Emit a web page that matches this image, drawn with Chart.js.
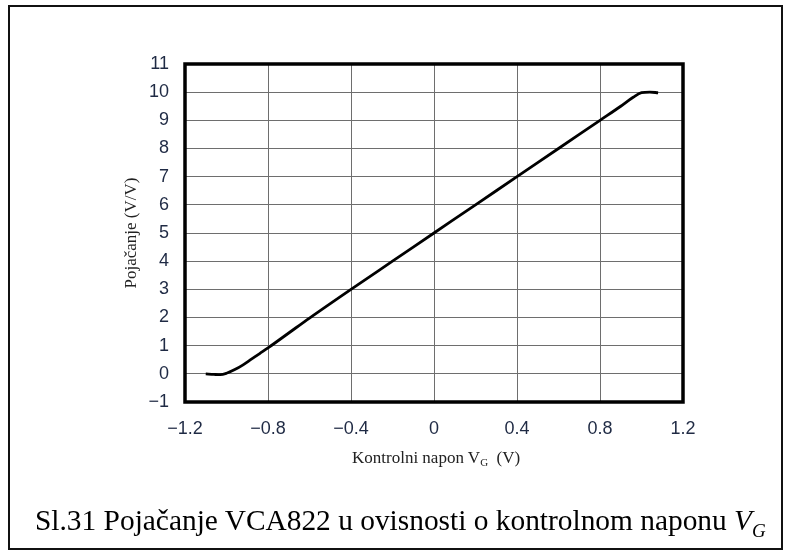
<!DOCTYPE html>
<html>
<head>
<meta charset="utf-8">
<script src="https://cdn.jsdelivr.net/npm/chart.js@4.4.1/dist/chart.umd.min.js"></script>
<style>
  html,body{margin:0;padding:0;background:#fff;}
  #wrap{position:relative;width:788px;height:551px;overflow:hidden;}
  #frame{position:absolute;left:8px;top:5px;width:771px;height:541px;border:2px solid #111;}
  #chart{position:absolute;left:0;top:0;}
  #xtitle{position:absolute;left:352px;top:449px;font:17px "Liberation Serif","Times New Roman",serif;line-height:17px;color:#222;white-space:nowrap;}
  #xtitle sub{font-size:11px;vertical-align:-3px;}
  #caption{position:absolute;left:35px;top:506px;font:29.4px "Liberation Serif","Times New Roman",serif;line-height:29px;color:#000;white-space:nowrap;}
  #caption sub{font-size:19px;vertical-align:-7px;}
</style>
</head>
<body>
<div id="wrap">
  <div id="frame"></div>
  <canvas id="chart" width="788" height="551"></canvas>
  <div id="xtitle">Kontrolni napon V<sub>G</sub>&nbsp; (V)</div>
  <div id="caption">Sl.31 Pojačanje VCA822 u ovisnosti o kontrolnom naponu <i>V<sub>G</sub></i></div>
</div>
<script>
// control voltage V_G (V) and gain (V/V)
let controlVoltage=[-1.10,-1.06,-1.03,-1.00,-0.96,-0.92,-0.88,-0.84,-0.80,-0.70,-0.60,-0.40,-0.20,0,0.20,0.40,0.60,0.80,0.90,0.96,1.00,1.04,1.08];
let gain=[0.0,-0.02,-0.03,0.02,0.15,0.32,0.52,0.72,0.92,1.45,1.98,3.0,4.0,5.0,6.0,7.0,8.0,9.0,9.5,9.82,9.98,10.0,9.98];

let xTicks=[-1.2,-0.8,-0.4,0,0.4,0.8,1.2];
let yTicks=[-1,0,1,2,3,4,5,6,7,8,9,10,11];

function fmt(v){
    let s=Math.abs(v)<1e-9?"0":String(Math.abs(Math.round(v*10)/10));
    return v<-1e-9?"\u2212"+s:s;
}

let frameBox={
    id:"frameBox",
    afterDraw(chart){
        let a=chart.chartArea, c=chart.ctx;
        c.save();
        c.strokeStyle="#000";
        c.lineWidth=3.5;
        c.strokeRect(a.left,a.top,a.right-a.left,a.bottom-a.top);
        c.restore();
    }
};

new Chart(
    document.getElementById("chart"),
    {
        type:"line",
        data:{
            datasets:[{
                data:controlVoltage.map((x,i)=>({x:x,y:gain[i]})),
                borderColor:"#000",
                borderWidth:2.8,
                pointRadius:0,
                fill:false,
                cubicInterpolationMode:"monotone"
            }]
        },
        options:{
            responsive:false,
            animation:false,
            events:[],
            layout:{padding:{left:120,right:105,top:64,bottom:99}},
            plugins:{legend:{display:false},tooltip:{enabled:false}},
            scales:{
                x:{
                    type:"linear",
                    min:-1.2,max:1.2,
                    afterBuildTicks:s=>{s.ticks=xTicks.map(v=>({value:v}));},
                    afterFit:s=>{s.height=50;},
                    grid:{color:"#6e6e6e",lineWidth:1,drawTicks:false},
                    border:{display:false},
                    ticks:{
                        padding:16,
                        color:"#1f2a44",
                        font:{family:"Liberation Sans, Arial, sans-serif",size:18},
                        callback:v=>fmt(v)
                    }
                },
                y:{
                    min:-1,max:11,
                    afterBuildTicks:s=>{s.ticks=yTicks.map(v=>({value:v}));},
                    afterFit:s=>{s.width=65;},
                    grid:{color:"#6e6e6e",lineWidth:1,drawTicks:false},
                    border:{display:false},
                    title:{
                        display:true,
                        text:"Pojačanje (V/V)",
                        color:"#222",
                        padding:1,
                        font:{family:"Liberation Serif, Times New Roman, serif",size:17}
                    },
                    ticks:{
                        padding:16,
                        color:"#1f2a44",
                        font:{family:"Liberation Sans, Arial, sans-serif",size:18},
                        callback:v=>fmt(v)
                    }
                }
            }
        },
        plugins:[frameBox]
    }
);
</script>
</body>
</html>
